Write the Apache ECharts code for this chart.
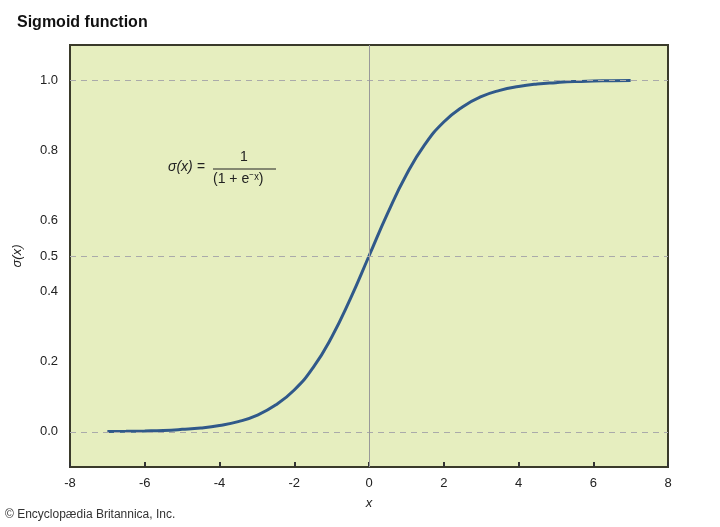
<!DOCTYPE html>
<html><head><meta charset="utf-8">
<script src="https://cdn.jsdelivr.net/npm/echarts@6/dist/echarts.min.js"></script>
<style>html,body{margin:0;padding:0;background:#fff}#c{width:720px;height:527px}</style>
</head><body><div id="c"></div>
<script>
// values
var xs = [-7,-6.5,-6,-5.5,-5,-4.5,-4,-3.5,-3,-2.5,-2,-1.5,-1,-0.5,0,0.5,1,1.5,2,2.5,3,3.5,4,4.5,5,5.5,6,6.5,7];
var ys = [0.001,0.0015,0.0025,0.004,0.007,0.011,0.018,0.029,0.047,0.076,0.119,0.182,0.269,0.378,0.5,0.622,0.731,0.818,0.881,0.924,0.953,0.971,0.982,0.989,0.993,0.996,0.9975,0.9985,0.999];
var yLabels = [0, 0.2, 0.4, 0.5, 0.6, 0.8, 1.0];
var dashedAt = [0, 0.5, 1.0];

var pts = xs.map(function(x, i){ return [x, ys[i]]; });
var font = 'Liberation Sans, Arial, sans-serif';

var chart = echarts.init(document.getElementById('c'));
chart.setOption({
  animation: false,
  title: {text: 'Sigmoid function', left: 12, top: 10,
    textStyle: {fontFamily: font, fontSize: 16, fontWeight: 'bold', color: '#111'}},
  grid: {left: 70, right: 52, top: 45, bottom: 60, show: true,
    backgroundColor: '#e6eebf', borderColor: '#3a3a2a', borderWidth: 2},
  xAxis: {
    type: 'value', min: -8, max: 8, interval: 2,
    name: 'x', nameLocation: 'middle', nameGap: 30,
    nameTextStyle: {fontFamily: font, fontStyle: 'italic', fontSize: 13, color: '#222'},
    axisLine: {show: false, onZero: false}, splitLine: {show: false},
    axisTick: {show: true, inside: true, length: 5, lineStyle: {color: '#333', width: 2}},
    axisLabel: {fontFamily: font, fontSize: 13, color: '#222', margin: 10}
  },
  yAxis: {
    type: 'value', min: -0.1, max: 1.1, interval: 0.1,
    name: 'σ(x)', nameLocation: 'middle', nameGap: 46, nameRotate: 90,
    nameTextStyle: {fontFamily: font, fontStyle: 'italic', fontSize: 13, color: '#222'},
    axisLine: {show: false, onZero: false}, splitLine: {show: false},
    axisTick: {show: false},
    axisLabel: {fontFamily: font, fontSize: 13, color: '#222', margin: 12,
      formatter: function(v){
        for (var i = 0; i < yLabels.length; i++) if (Math.abs(v - yLabels[i]) < 1e-6) return yLabels[i].toFixed(1);
        return '';
      }}
  },
  graphic: [
    {type: 'text', left: 168, top: 160, style: {text: 'σ(x) =', fontFamily: font, fontStyle: 'italic', fontSize: 14, fill: '#222'}},
    {type: 'text', left: 240, top: 150, style: {text: '1', fontFamily: font, fontSize: 14, fill: '#222'}},
    {type: 'line', shape: {x1: 213, y1: 169, x2: 276, y2: 169}, style: {stroke: '#222', lineWidth: 1}},
    {type: 'text', left: 213, top: 172, style: {text: '(1 + e⁻ˣ)', fontFamily: font, fontSize: 14, fill: '#222'}},
    {type: 'text', left: 5, top: 509, style: {text: '© Encyclopædia Britannica, Inc.', fontFamily: font, fontSize: 12, fill: '#333'}}
  ],
  series: [
    {type: 'line', data: pts, smooth: true, showSymbol: false,
      lineStyle: {color: '#30598a', width: 3},
      markLine: {silent: true, symbol: 'none', label: {show: false},
        data: dashedAt.map(function(v){ return {yAxis: v, lineStyle: {color: '#aaa', type: [6, 5], width: 1}}; })
          .concat([{xAxis: 0, lineStyle: {color: '#999', type: 'solid', width: 1}}])}
    }
  ]
});
</script></body></html>
